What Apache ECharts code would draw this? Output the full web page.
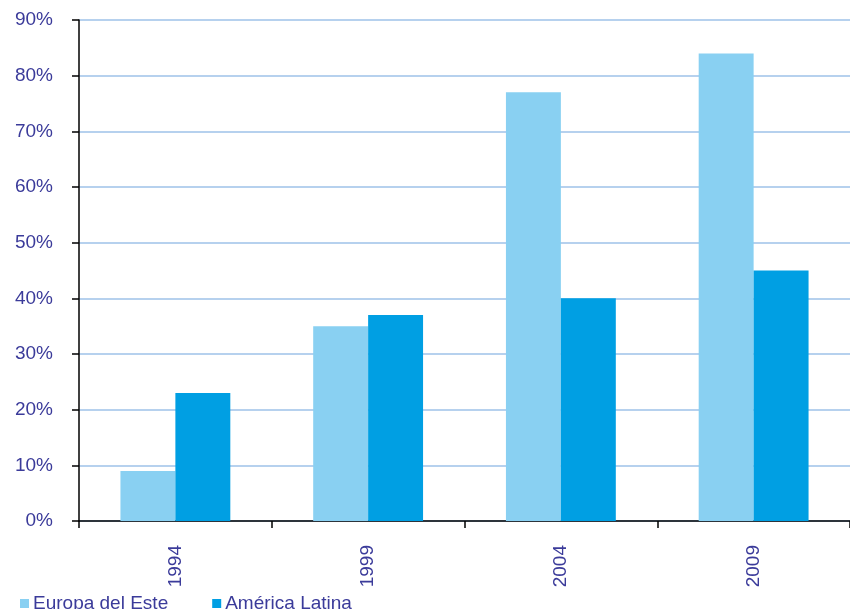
<!DOCTYPE html>
<html>
<head>
<meta charset="utf-8">
<script src="https://cdn.jsdelivr.net/npm/echarts@6/dist/echarts.min.js"></script>
<style>html,body{margin:0;padding:0;background:#fff;}#c{width:850px;height:609px;}</style>
</head>
<body>
<div id="c"></div>
<script>
var categories = ['1994', '1999', '2004', '2009'];
var europaDelEste = [9, 35, 77, 84];
var americaLatina = [23, 37, 40, 45];
var seriesNames = ['Europa del Este', 'América Latina'];

var textColor = '#3B3B9A';
var font = 'Liberation Sans, Arial, sans-serif';
var chart = echarts.init(document.getElementById('c'));
chart.setOption({
  animation: false,
  backgroundColor: '#ffffff',
  textStyle: { fontFamily: font },
  grid: { left: 79, right: -2, top: 20, bottom: 88, containLabel: false },
  legend: {
    left: 15, top: 589,
    icon: 'rect', itemWidth: 9, itemHeight: 9, itemGap: 44,
    textStyle: { color: textColor, fontSize: 19, lineHeight: 19, fontFamily: font, padding: [0, 0, 0, -1] },
    data: seriesNames
  },
  xAxis: {
    type: 'category',
    data: categories,
    axisLine: { lineStyle: { color: '#000', width: 1.5 } },
    axisTick: { show: true, length: 7, lineStyle: { color: '#000', width: 1.5 } },
    axisLabel: { rotate: 90, margin: 24, color: textColor, fontSize: 19, fontFamily: font }
  },
  yAxis: {
    type: 'value', min: 0, max: 90, interval: 10,
    axisLine: { show: true, lineStyle: { color: '#000', width: 1.5 } },
    axisTick: { show: true, length: 7, lineStyle: { color: '#000', width: 1.5 } },
    axisLabel: { formatter: '{value}%', margin: 26, color: textColor, fontSize: 19, fontFamily: font },
    splitLine: { lineStyle: { color: '#9EC2E8', width: 1.5 } }
  },
  series: [
    { name: seriesNames[0], type: 'bar', data: europaDelEste, barGap: '0%', barCategoryGap: '43%',
      itemStyle: { color: '#89D0F2' } },
    { name: seriesNames[1], type: 'bar', data: americaLatina, barGap: '0%', barCategoryGap: '43%',
      itemStyle: { color: '#009FE3' } }
  ]
});
</script>
</body>
</html>
